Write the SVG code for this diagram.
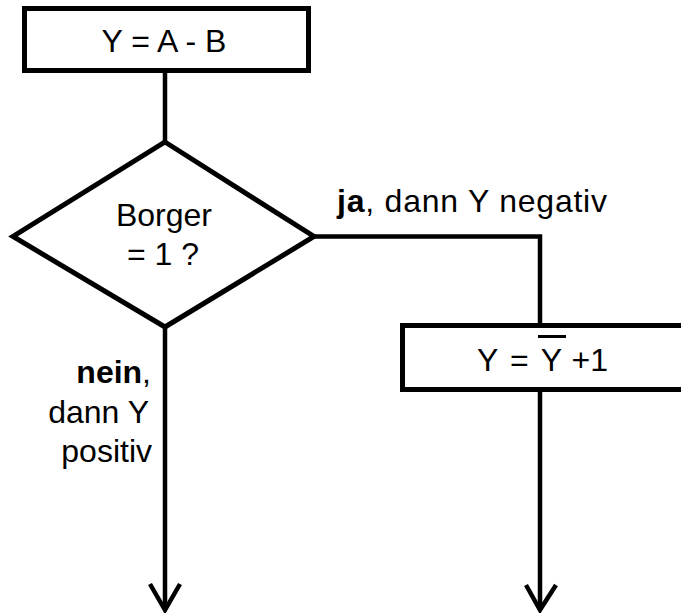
<svg xmlns="http://www.w3.org/2000/svg" width="681" height="613" viewBox="0 0 681 613">
  <style>
    .box { fill: #fff; stroke: #000; stroke-width: 5; }
    .line { fill: none; stroke: #000; stroke-width: 4.5; }
    .t { font-family: "Liberation Sans", Arial, sans-serif; font-size: 32px; fill: #000; }
    .b { font-weight: bold; }
  </style>
  <rect width="681" height="613" fill="#fff"/>

  <!-- connectors -->
  <g id="connectors">
    <path class="line" d="M165,72 V142"/>
    <path class="line" d="M314,236.5 H540 V324"/>
    <path class="line" d="M165,327 V609"/>
    <path class="line" d="M150,584 L165,610 L180,584"/>
    <path class="line" d="M540,390 V609"/>
    <path class="line" d="M526,585 L540,610 L556,585"/>
  </g>

  <!-- start: subtraction -->
  <g id="node-subtract">
    <rect class="box" x="24.5" y="8.5" width="284" height="62"/>
    <text class="t" x="164" y="52" text-anchor="middle">Y = A - B</text>
  </g>

  <!-- decision: borrow -->
  <g id="node-borrow">
    <polygon class="box" points="165,142 314,236.5 165,327 13,236.5"/>
    <text class="t" x="164" y="226" text-anchor="middle">Borger</text>
    <text class="t" x="163" y="265" text-anchor="middle">= 1 ?</text>
  </g>

  <!-- two's complement -->
  <g id="node-complement">
    <rect class="box" x="402.5" y="325.5" width="300" height="64"/>
    <text class="t" x="477" y="371">Y</text>
    <text class="t" x="510" y="371">=</text>
    <text class="t" x="551.5" y="371" text-anchor="middle">Y</text>
    <line x1="538" y1="336.5" x2="566" y2="336.5" stroke="#000" stroke-width="3"/>
    <text class="t" x="608" y="371" text-anchor="end">+1</text>
  </g>

  <!-- branch labels -->
  <g id="labels">
    <text class="t" x="337" y="212" textLength="270" lengthAdjust="spacing"><tspan class="b">ja</tspan>, dann Y negativ</text>
    <text class="t" x="151" y="383" text-anchor="end"><tspan class="b">nein</tspan>,</text>
    <text class="t" x="149" y="423" text-anchor="end">dann Y</text>
    <text class="t" x="152" y="462" text-anchor="end">positiv</text>
  </g>
</svg>
